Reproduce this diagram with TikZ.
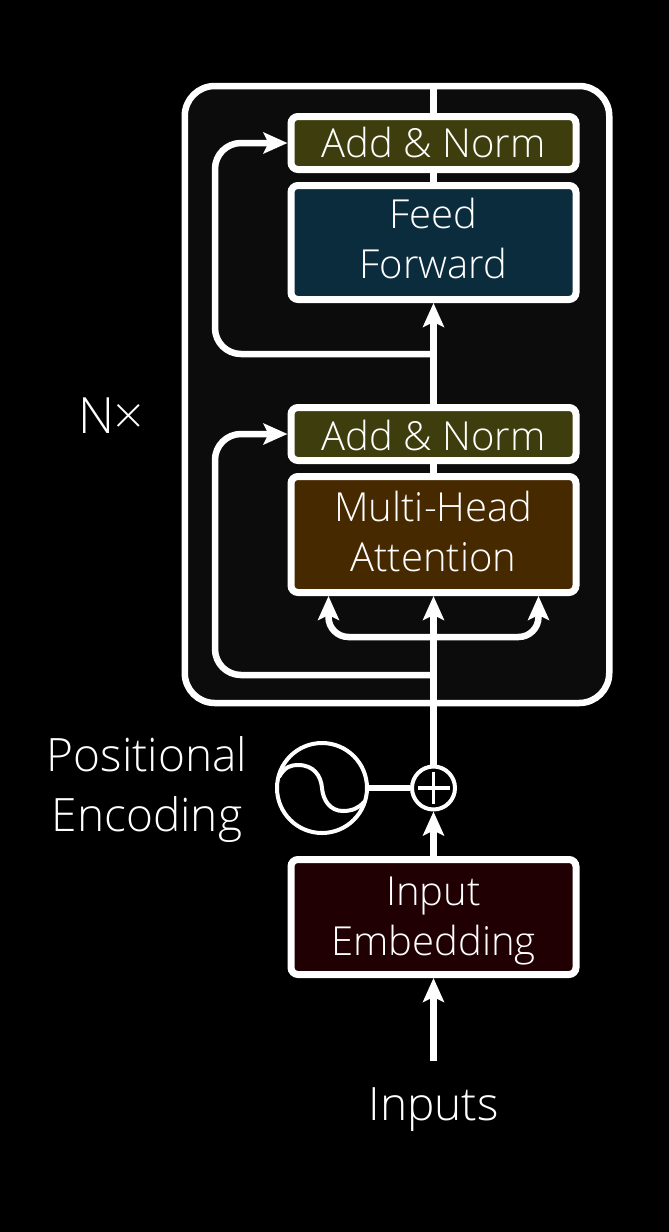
\documentclass[tikz,border=0pt]{standalone}
\usepackage{fontspec}
\setmainfont{Open Sans}[UprightFont=* Light]
\usetikzlibrary{arrows.meta,calc,backgrounds}
\definecolor{panel}{HTML}{0C0C0C}
\definecolor{normfill}{HTML}{3D3D0D}
\definecolor{feedfill}{HTML}{0A2C3D}
\definecolor{headfill}{HTML}{472900}
\definecolor{embedfill}{HTML}{210004}
\tikzset{
  x=1pt,y=-1pt,
  stagebox/.style={draw=white,line width=7pt,rounded corners=7pt,minimum width=285pt,text=white,align=center,inner sep=0pt,
    font=\fontsize{40}{50}\selectfont},
  freetext/.style={text=white,align=center,inner sep=0pt,font=\fontsize{46}{60}\selectfont},
  wire/.style={draw=white,line width=6.5pt},
  arrowwire/.style={wire,-{Stealth[length=24pt,width=21pt,inset=5pt]}},
  skipwire/.style={arrowwire,rounded corners=26pt},
  ring/.style={circle,draw=white,line width=4pt,fill=black,inner sep=0pt},
}
\begin{document}
\begin{tikzpicture}
\useasboundingbox[fill=black] (0,0) rectangle (669,1232);
\node[draw=white,fill=panel,line width=6.5pt,rounded corners=30pt,minimum width=424.5pt,minimum height=617pt] (stack) at (397,394.5) {};
\node[stagebox,fill=normfill,minimum height=53pt,text height=28pt,text depth=0pt] (normtop) at (433.5,143) {Add \& Norm};
\node[stagebox,fill=feedfill,minimum height=114pt,text height=71pt,text depth=0pt] (feed) at (433.5,242.5) {Feed\\Forward};
\node[stagebox,fill=normfill,minimum height=53pt,text height=32pt,text depth=0pt] (normlow) at (433.5,434) {Add \& Norm};
\node[stagebox,fill=headfill,minimum height=116pt,text height=73pt,text depth=0pt] (head) at (433.5,534.5) {Multi-Head\\Attention};
\node[stagebox,fill=embedfill,minimum height=115pt,text height=76pt,text depth=0pt] (embed) at (433.5,917) {Input\\Embedding};
\node[ring,minimum size=43pt] (plus) at (433.5,788) {};
\node[ring,minimum size=90pt] (wave) at (322,788) {};
\node[freetext,anchor=base] (inputs) at (433.5,1120) {Inputs};
\node[freetext,anchor=base] (posenc) at (147,831) {Positional\\Encoding};
\node[freetext,anchor=base,font=\fontsize{50}{60}\selectfont] (nx) at (111,433) {N×};
\coordinate (start) at (433.5,1061);
\coordinate (upperbranch) at (433.5,354);
\coordinate (lowerbranch) at (433.5,675);
\coordinate (fork) at (433.5,637);
\draw[arrowwire] (start) -- (embed.south);
\draw[arrowwire] (embed.north) -- (plus.south);
\draw[arrowwire] (plus.north) -- (head.south);
\draw[wire] (head.north) -- (normlow.south);
\draw[arrowwire] (normlow.north) -- (feed.south);
\draw[wire] (feed.north) -- (normtop.south);
\draw[wire] (normtop.north) -- (stack.north -| normtop.north);
\draw[wire] (wave.east) -- (plus.west);
\draw[skipwire] (upperbranch) -- (215,354) -- (215,143) -- (normtop.west);
\draw[skipwire] (lowerbranch) -- (215,675) -- (215,434) -- (normlow.west);
\draw[arrowwire,rounded corners=20pt] (fork) -- ($(fork)+(-105,0)$) -- ($(head.south)+(-105,0)$);
\draw[arrowwire,rounded corners=20pt] (fork) -- ($(fork)+(105,0)$) -- ($(head.south)+(105,0)$);
\draw[draw=white,line width=3.5pt] ($(plus.center)+(-16,0)$) -- ($(plus.center)+(16,0)$);
\draw[draw=white,line width=3.5pt] ($(plus.center)+(0,-16)$) -- ($(plus.center)+(0,16)$);
\draw[draw=white,line width=4pt] ($(wave.center)+(-43,-11)$) .. controls ($(wave.center)+(-37,-22)$) and ($(wave.center)+(-30,-23)$) .. ($(wave.center)+(-24,-23)$) .. controls ($(wave.center)+(-8,-23)$) and ($(wave.center)+(-1,-12)$) .. ($(wave.center)+(0,0)$) .. controls ($(wave.center)+(1,12)$) and ($(wave.center)+(8,23)$) .. ($(wave.center)+(21,23)$) .. controls ($(wave.center)+(30,23)$) and ($(wave.center)+(37,20)$) .. ($(wave.center)+(42,14)$);
\end{tikzpicture}
\end{document}
